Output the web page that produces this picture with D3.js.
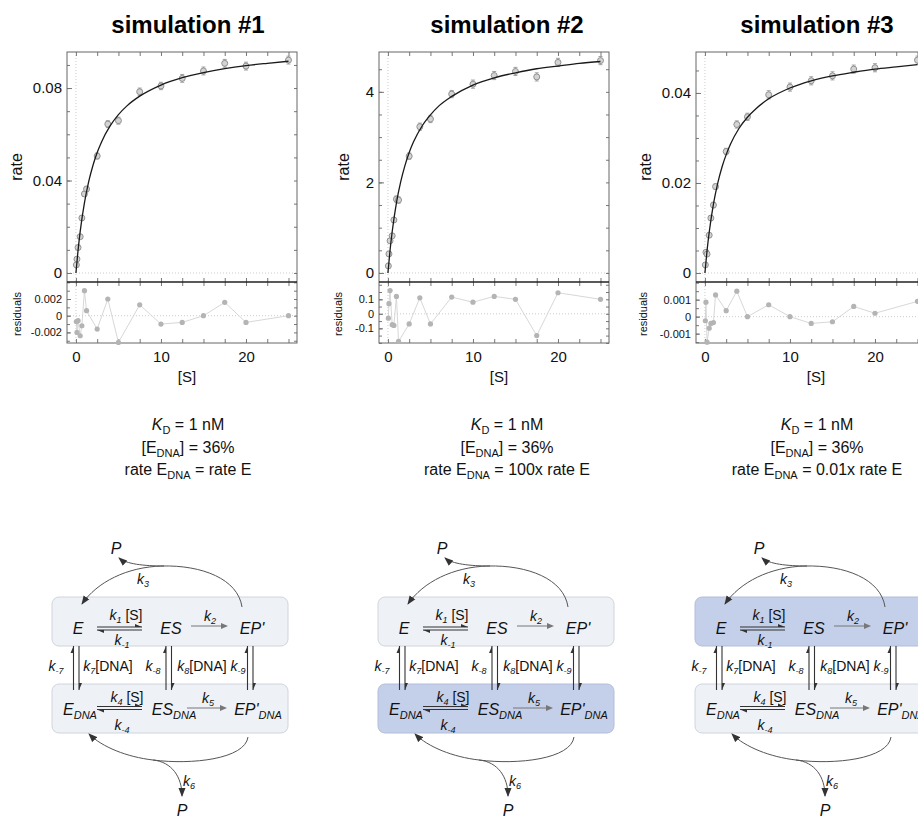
<!DOCTYPE html>
<html>
<head>
<meta charset="utf-8">
<script src="https://cdn.jsdelivr.net/npm/d3@7"></script>
<style>
	body { margin: 0; background: #fff; }
	svg { display: block; font-family: "Liberation Sans", Arial, Helvetica, sans-serif; }
	text { white-space: pre; }
</style>
</head>
<body>
<div id="chart"></div>
<script>
const width = 918;
const height = 818;

// ---- data ----
const titles = ["simulation #1", "simulation #2", "simulation #3"];
const rateRatios = ["rate E", "100x rate E", "0.01x rate E"];
const highlighted = [null, "bottom", "top"];

const conc = [0.05, 0.12, 0.25, 0.5, 0.7, 1, 1.25, 2.5, 3.75, 5, 7.5, 10, 12.5, 15, 17.5, 20, 25];

const rate1 = [0.0035, 0.006, 0.011, 0.0157, 0.0238, 0.0342, 0.0363, 0.0506, 0.0644, 0.0659, 0.0784, 0.0809, 0.0842, 0.0874, 0.0907, 0.0895, 0.0921];
const rate2 = [0.155, 0.42, 0.71, 0.82, 1.17, 1.63, 1.61, 2.58, 3.23, 3.40, 3.95, 4.17, 4.36, 4.45, 4.33, 4.65, 4.69];
const rate3 = [0.0018, 0.0046, 0.0042, 0.0084, 0.0122, 0.0151, 0.0192, 0.027, 0.033, 0.0347, 0.0396, 0.0413, 0.0427, 0.0438, 0.0453, 0.0456, 0.0473];

const err1 = [0.0004, 0.0005, 0.0006, 0.0007, 0.0009, 0.0011, 0.0012, 0.0013, 0.0015, 0.0015, 0.0016, 0.0016, 0.0017, 0.0017, 0.0017, 0.0017, 0.0017];
const err2 = [0.02, 0.03, 0.04, 0.04, 0.05, 0.07, 0.07, 0.07, 0.08, 0.08, 0.08, 0.09, 0.09, 0.09, 0.09, 0.09, 0.09];
const err3 = [0.0002, 0.0003, 0.0003, 0.0004, 0.0005, 0.0006, 0.0006, 0.0007, 0.0008, 0.0008, 0.0009, 0.0009, 0.0009, 0.0009, 0.0009, 0.0009, 0.0009];

const resid1 = [-0.0007, -0.002, -0.0006, -0.0024, -0.0012, 0.003, 0.0006, -0.0016, 0.002, -0.0032, 0.0013, -0.001, -0.0008, 0, 0.0016, -0.0008, 0];
const resid2 = [-0.03, 0.07, 0.16, -0.075, -0.08, 0.12, -0.19, -0.07, 0.11, -0.07, 0.115, 0.08, 0.12, 0.1, -0.15, 0.145, 0.1];
const resid3 = [-0.00024, 0.00085, -0.0015, -0.00068, -0.0004, -0.00035, 0.00128, 0.00035, 0.0015, 0, 0.0007, 0, -0.0004, -0.0003, 0.0006, 0.0002, 0.0009];

// fitted curves, read at these [S] values
const fitConc = [0, 0.25, 0.5, 1, 1.5, 2, 2.5, 3, 4, 5, 6, 7.5, 10, 12.5, 15, 17.5, 20, 22.5, 25];
const fit1 = [0, 0.0098, 0.0179, 0.0303, 0.0395, 0.0465, 0.0521, 0.0566, 0.0635, 0.0685, 0.0723, 0.0765, 0.0813, 0.0845, 0.0867, 0.0884, 0.0897, 0.0907, 0.0916];
const fit2 = [0, 0.50, 0.91, 1.55, 2.01, 2.37, 2.66, 2.89, 3.24, 3.49, 3.69, 3.90, 4.15, 4.31, 4.42, 4.51, 4.57, 4.63, 4.67];
const fit3 = [0, 0.0050, 0.0090, 0.0153, 0.0199, 0.0235, 0.0263, 0.0286, 0.0321, 0.0346, 0.0365, 0.0387, 0.0411, 0.0427, 0.0438, 0.0446, 0.0453, 0.0458, 0.0463];

const concTicks = [0, 10, 20];
const rateTicks = [[0, 0.04, 0.08], [0, 2, 4], [0, 0.02, 0.04]];
const residTicks = [[-0.002, 0, 0.002], [-0.1, 0, 0.1], [-0.001, 0, 0.001]];

// ---- layout ----
const plotLeft = [67, 379, 696];
const plotW = 230;
const mainTop = 52, mainBottom = 282, residBottom = 343;
const concDomain = [-1.05, 26.0];
const rateDomain = [[-0.0039, 0.0956], [-0.2, 4.88], [-0.002, 0.0491]];
const residDomain = [[-0.00327, 0.00404], [-0.201, 0.219], [-0.00155, 0.00204]];
const rateMinor = [0.01, 0.5, 0.005];
const residMinor = [0.001, 0.05, 0.0005];
const rateLabelX = [16, 343, 645];
const residLabelX = [17, 338, 643];
const titleX = [188, 507, 817];
const schemeX = [52, 378, 695];
const schemeY = 597;

const panels = titles.map((t, i) => ({
	title: t,
	rate: [rate1, rate2, rate3][i],
	err: [err1, err2, err3][i],
	resid: [resid1, resid2, resid3][i],
	fit: [fit1, fit2, fit3][i]
}));

const svg = d3.select("#chart")
	.append("svg")
	.attr("width", width)
	.attr("height", height)
	.attr("viewBox", [0, 0, width, height]);

const defs = svg.append("defs");
defs.append("marker")
	.attr("id", "head")
	.attr("viewBox", "0 -4 9 8")
	.attr("refX", 8)
	.attr("refY", 0)
	.attr("markerWidth", 9)
	.attr("markerHeight", 8)
	.attr("markerUnits", "userSpaceOnUse")
	.attr("orient", "auto")
	.append("path")
	.attr("d", "M0,-3.5L9,0L0,3.5Z")
	.attr("fill", "#333");

function richText(g, x, y, parts, o) {
	const t = g.append("text")
		.attr("x", x)
		.attr("y", y)
		.attr("text-anchor", o.anchor || "middle")
		.attr("font-size", o.size)
		.attr("fill", o.fill || "#111");
	let shift = 0;
	parts.forEach(p => {
		const target = p.sub ? o.subShift : 0;
		const ts = t.append("tspan").attr("dy", target - shift).text(p.t);
		shift = target;
		if (p.sub) ts.attr("font-size", o.subSize);
		if (p.it || o.italic) ts.attr("font-style", "italic");
	});
	return t;
}

function styleAxis(g, fontSize) {
	g.attr("font-family", null)
		.attr("font-size", fontSize)
		.call(a => a.select(".domain").remove())
		.call(a => a.selectAll(".tick line").attr("stroke", "#777"))
		.call(a => a.selectAll(".tick text").attr("fill", "#111"));
}

const fmt = d => String(d);
const minorConc = d3.range(0, 26, 2.5);

function drawPlot(p, i) {
	const left = plotLeft[i];
	const x = d3.scaleLinear().domain(concDomain).range([left, left + plotW]);
	const y = d3.scaleLinear().domain(rateDomain[i]).range([mainBottom, mainTop]);
	const yr = d3.scaleLinear().domain(residDomain[i]).range([residBottom, mainBottom]);
	const g = svg.append("g");

	// title
	g.append("text")
		.attr("x", titleX[i])
		.attr("y", 33)
		.attr("text-anchor", "middle")
		.attr("font-size", 24)
		.attr("font-weight", "bold")
		.attr("fill", "#000")
		.text(p.title);

	// dotted zero lines
	g.append("line")
		.attr("x1", x(0)).attr("x2", x(0))
		.attr("y1", mainTop).attr("y2", residBottom)
		.attr("stroke", "#ccc").attr("stroke-dasharray", "1,2");
	g.append("line")
		.attr("x1", left).attr("x2", left + plotW)
		.attr("y1", y(0)).attr("y2", y(0))
		.attr("stroke", "#ccc").attr("stroke-dasharray", "1,2");
	g.append("line")
		.attr("x1", left).attr("x2", left + plotW)
		.attr("y1", yr(0)).attr("y2", yr(0))
		.attr("stroke", "#ccc").attr("stroke-dasharray", "1,2");

	// ticks, all pointing inwards
	const rMinor = d3.range(0, rateDomain[i][1], rateMinor[i]);
	const resMinor = d3.range(-5, 6).map(k => k * residMinor[i])
		.filter(v => v > residDomain[i][0] && v < residDomain[i][1]);

	g.append("g").attr("transform", `translate(${left},0)`)
		.call(d3.axisLeft(y).tickValues(rMinor).tickSize(-3).tickFormat(""))
		.call(a => styleAxis(a, 15));
	g.append("g").attr("transform", `translate(${left},0)`)
		.call(d3.axisLeft(y).tickValues(rateTicks[i]).tickSize(-5).tickPadding(5).tickFormat(fmt))
		.call(a => styleAxis(a, 15));
	g.append("g").attr("transform", `translate(${left + plotW},0)`)
		.call(d3.axisRight(y).tickValues(rMinor).tickSize(-3).tickFormat(""))
		.call(a => styleAxis(a, 15));

	g.append("g").attr("transform", `translate(${left},0)`)
		.call(d3.axisLeft(yr).tickValues(resMinor).tickSize(-3).tickFormat(""))
		.call(a => styleAxis(a, 11));
	g.append("g").attr("transform", `translate(${left},0)`)
		.call(d3.axisLeft(yr).tickValues(residTicks[i]).tickSize(-4).tickPadding(5).tickFormat(fmt))
		.call(a => styleAxis(a, 11));
	g.append("g").attr("transform", `translate(${left + plotW},0)`)
		.call(d3.axisRight(yr).tickValues(resMinor).tickSize(-3).tickFormat(""))
		.call(a => styleAxis(a, 11));

	g.append("g").attr("transform", `translate(0,${mainTop})`)
		.call(d3.axisTop(x).tickValues(minorConc).tickSize(-4).tickFormat(""))
		.call(a => styleAxis(a, 15));
	g.append("g").attr("transform", `translate(0,${mainBottom})`)
		.call(d3.axisBottom(x).tickValues(minorConc).tickSize(-4).tickFormat(""))
		.call(a => styleAxis(a, 15));
	g.append("g").attr("transform", `translate(0,${mainBottom})`)
		.call(d3.axisTop(x).tickValues(minorConc).tickSize(-4).tickFormat(""))
		.call(a => styleAxis(a, 15));
	g.append("g").attr("transform", `translate(0,${residBottom})`)
		.call(d3.axisBottom(x).tickValues(minorConc).tickSize(-4).tickPadding(8)
			.tickFormat(d => concTicks.includes(d) ? fmt(d) : ""))
		.call(a => styleAxis(a, 15));

	// frame and divider
	g.append("rect")
		.attr("x", left).attr("y", mainTop)
		.attr("width", plotW).attr("height", residBottom - mainTop)
		.attr("fill", "none").attr("stroke", "#666");
	g.append("line")
		.attr("x1", left).attr("x2", left + plotW)
		.attr("y1", mainBottom).attr("y2", mainBottom)
		.attr("stroke", "#222").attr("stroke-width", 1.4);

	// axis titles
	g.append("text")
		.attr("transform", `translate(${rateLabelX[i]},167) rotate(-90)`)
		.attr("text-anchor", "middle").attr("dy", "0.35em")
		.attr("font-size", 16).attr("fill", "#111")
		.text("rate");
	g.append("text")
		.attr("transform", `translate(${residLabelX[i]},314) rotate(-90)`)
		.attr("text-anchor", "middle").attr("dy", "0.35em")
		.attr("font-size", 11).attr("fill", "#111")
		.text("residuals");
	g.append("text")
		.attr("x", left + plotW / 2 + 5).attr("y", 382)
		.attr("text-anchor", "middle")
		.attr("font-size", 15).attr("fill", "#111")
		.text("[S]");

	// residuals
	const pts = conc.map((c, k) => ({ c, v: p.rate[k], e: p.err[k], r: p.resid[k] }));
	g.append("path")
		.datum(pts)
		.attr("fill", "none")
		.attr("stroke", "#d2d2d2")
		.attr("stroke-width", 0.9)
		.attr("d", d3.line().x(d => x(d.c)).y(d => yr(d.r)));
	g.append("g")
		.selectAll("circle")
		.data(pts)
		.join("circle")
		.attr("cx", d => x(d.c))
		.attr("cy", d => yr(d.r))
		.attr("r", 2.6)
		.attr("fill", "#b4b4b4");

	// error bars
	const eb = g.append("g").attr("stroke", "#999").attr("stroke-width", 0.9);
	eb.selectAll("line.v")
		.data(pts)
		.join("line")
		.attr("x1", d => x(d.c)).attr("x2", d => x(d.c))
		.attr("y1", d => y(d.v - d.e)).attr("y2", d => y(d.v + d.e));
	eb.selectAll("path")
		.data(pts)
		.join("path")
		.attr("fill", "none")
		.attr("d", d => `M${x(d.c) - 2},${y(d.v - d.e)}h4M${x(d.c) - 2},${y(d.v + d.e)}h4`);

	// points
	g.append("g")
		.selectAll("circle")
		.data(pts)
		.join("circle")
		.attr("cx", d => x(d.c))
		.attr("cy", d => y(d.v))
		.attr("r", 3)
		.attr("fill", "#d4d4d4")
		.attr("stroke", "#888")
		.attr("stroke-width", 0.9);

	// fit
	g.append("path")
		.datum(fitConc.map((c, k) => [c, p.fit[k]]))
		.attr("fill", "none")
		.attr("stroke", "#1a1a1a")
		.attr("stroke-width", 1.3)
		.attr("d", d3.line().x(d => x(d[0])).y(d => y(d[1])).curve(d3.curveMonotoneX));

	// conditions
	const tx = titleX[i];
	const o = { size: 16, subSize: 11, subShift: 4 };
	richText(g, tx, 430, [{ t: "K", it: true }, { t: "D", sub: true }, { t: " = 1 nM" }], o);
	richText(g, tx, 453, [{ t: "[E" }, { t: "DNA", sub: true }, { t: "] = 36%" }], o);
	richText(g, tx, 475, [{ t: "rate E" }, { t: "DNA", sub: true }, { t: " = " + rateRatios[i] }], o);
}

// ---- reaction scheme, coordinates relative to the top-left of the upper box ----
const k = s => [{ t: "k", it: true }, { t: s, sub: true, it: true }];
const species = [
	{ x: 26, y: 37, parts: [{ t: "E" }] },
	{ x: 119, y: 37, parts: [{ t: "ES" }] },
	{ x: 200, y: 37, parts: [{ t: "EP'" }] },
	{ x: 28, y: 118, parts: [{ t: "E" }, { t: "DNA", sub: true }] },
	{ x: 122, y: 118, parts: [{ t: "ES" }, { t: "DNA", sub: true }] },
	{ x: 206, y: 118, parts: [{ t: "EP'" }, { t: "DNA", sub: true }] }
];
const constants = [
	{ x: 74, y: 23, parts: k("1").concat([{ t: " [S]" }]) },
	{ x: 70, y: 48, parts: k("-1") },
	{ x: 158, y: 24, parts: k("2") },
	{ x: 4, y: 74, parts: k("-7") },
	{ x: 56, y: 74, parts: k("7").concat([{ t: "[DNA]" }]) },
	{ x: 101, y: 74, parts: k("-8") },
	{ x: 150, y: 74, parts: k("8").concat([{ t: "[DNA]" }]) },
	{ x: 186, y: 74, parts: k("-9") },
	{ x: 75, y: 105, parts: k("4").concat([{ t: " [S]" }]) },
	{ x: 70, y: 133, parts: k("-4") },
	{ x: 156, y: 106, parts: k("5") },
	{ x: 91, y: -13, parts: k("3") },
	{ x: 137, y: 189, parts: k("6") }
];
const products = [{ x: 64, y: -43 }, { x: 130, y: 219 }];
const hPairs = [{ x1: 45, x2: 90, y: 30 }, { x1: 45, x2: 90, y: 109.5 }];
const vPairs = [{ x: 21.5, y1: 49, y2: 93 }, { x: 114, y1: 49, y2: 93 }, { x: 195.5, y1: 49, y2: 93 }];
const oneWay = [{ x1: 139, x2: 176, y: 29 }, { x1: 135, x2: 175, y: 111 }];
const curves = [
	"M190,10C186,-18 150,-32 110,-31C75,-30 45,-15 30,7",
	"M112,-31C92,-31 74,-33 67,-39",
	"M196,140C193,162 140,168 101,163C75,160 50,150 37,137",
	"M101,163C120,165 130,180 130,199"
];

function drawScheme(i) {
	const g = svg.append("g").attr("transform", `translate(${schemeX[i]},${schemeY})`);
	const boxes = [{ key: "top", y: 0 }, { key: "bottom", y: 87 }];
	g.selectAll("rect")
		.data(boxes)
		.join("rect")
		.attr("x", 0).attr("y", d => d.y)
		.attr("width", 236).attr("height", 49)
		.attr("rx", 7)
		.attr("fill", d => d.key === highlighted[i] ? "#c4cfe9" : "#eef1f6")
		.attr("stroke", d => d.key === highlighted[i] ? "#b3bedb" : "#cfd4dc");

	curves.forEach(c => {
		g.append("path")
			.attr("d", c)
			.attr("fill", "none")
			.attr("stroke", "#555")
			.attr("stroke-width", 1)
			.attr("marker-end", "url(#head)");
	});

	const ink = "#333";
	hPairs.forEach(a => {
		g.append("path").attr("stroke", ink).attr("stroke-width", 1.1).attr("fill", "none")
			.attr("d", `M${a.x1},${a.y}H${a.x2}M${a.x1},${a.y + 3}H${a.x2}`);
		g.append("path").attr("fill", ink)
			.attr("d", `M${a.x2},${a.y}l-7,-3v3zM${a.x1},${a.y + 3}l7,3v-3z`);
	});
	vPairs.forEach(a => {
		g.append("path").attr("stroke", ink).attr("stroke-width", 1.1).attr("fill", "none")
			.attr("d", `M${a.x},${a.y1}V${a.y2}M${a.x + 5.5},${a.y1}V${a.y2}`);
		g.append("path").attr("fill", ink)
			.attr("d", `M${a.x},${a.y1}l-3,7h3zM${a.x + 5.5},${a.y2}l3,-7h-3z`);
	});
	oneWay.forEach(a => {
		g.append("path").attr("stroke", "#777").attr("stroke-width", 1)
			.attr("d", `M${a.x1},${a.y}H${a.x2 - 5}`);
		g.append("path").attr("fill", "#777")
			.attr("d", `M${a.x2},${a.y}l-7,-3v6z`);
	});

	species.forEach(s => richText(g, s.x, s.y, s.parts,
		{ size: 16, subSize: 11, subShift: 4, italic: true }));
	constants.forEach(s => richText(g, s.x, s.y, s.parts,
		{ size: 14, subSize: 9, subShift: 3 }));
	products.forEach(s => richText(g, s.x, s.y, [{ t: "P", it: true }],
		{ size: 16 }));
}

panels.forEach(drawPlot);
titles.forEach((t, i) => drawScheme(i));
</script>
</body>
</html>
